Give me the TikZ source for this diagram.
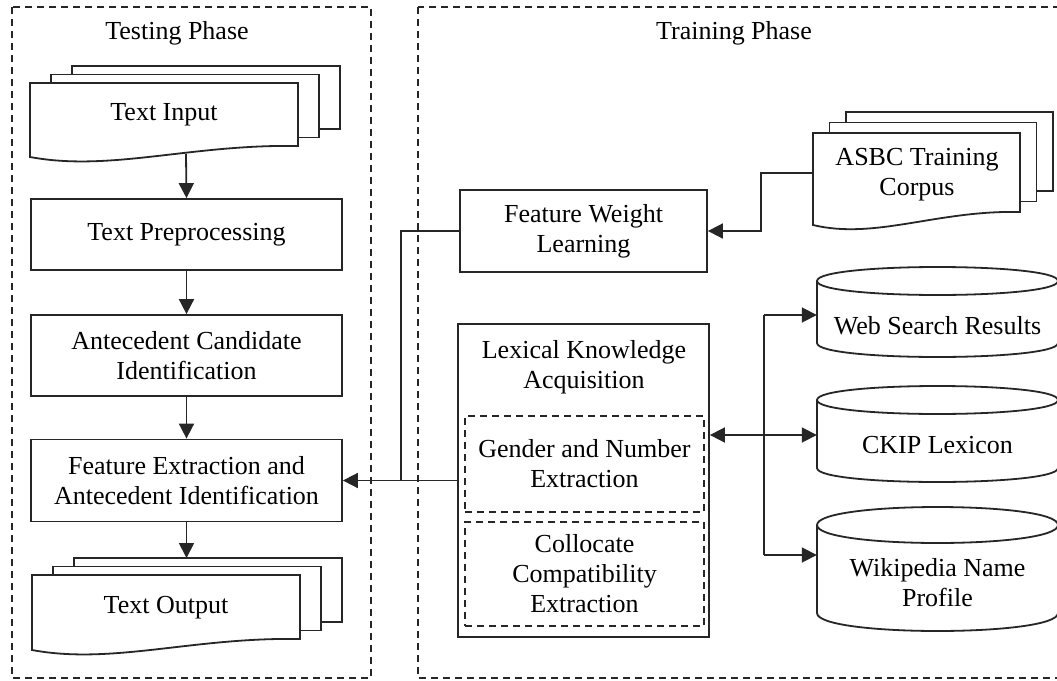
\documentclass[tikz,border=0pt]{standalone}
\usepackage{fontspec}
\setmainfont{Liberation Serif}
\usetikzlibrary{arrows.meta,calc}
\tikzset{
  line/.style={line width=1.8pt, draw=black!85},
  arr/.style={line, -{Triangle[length=15pt,width=15pt]}},
  biarr/.style={line, {Triangle[length=15pt,width=15pt]}-{Triangle[length=15pt,width=15pt]}},
  phase/.style={line width=1.8pt, draw=black!85, dash pattern=on 7pt off 5pt},
  procbox/.style={line, rectangle, inner sep=0pt, align=center, font=\fontsize{26}{30}\selectfont},
  subbox/.style={procbox, dash pattern=on 7pt off 5pt},
  txt/.style={inner sep=0pt, align=center, font=\fontsize{26}{30}\selectfont},
}
\newcommand{\multidoc}[7]{%
  \foreach \k in {2,1}{%
    \draw[line, fill=white] ({#1+\k*#6},{#2-\k*#7}) rectangle ({#3+\k*#6},{#4-\k*#7});
  }
  \draw[line, fill=white] (#1,#2) -- (#3,#2) -- (#3,#4)
    .. controls ({#1+0.6*(#3-#1)},{#4-2}) and ({#1+0.3*(#3-#1)},{#5+15}) .. (#1,#5) -- cycle;
}
\newcommand{\cylshape}[5]{% xl xr ytop ybot ry
  \draw[line, fill=white] (#1,#3) -- (#1,#4)
    .. controls (#1,{#4+1.333*#5}) and (#2,{#4+1.333*#5}) .. (#2,#4) -- (#2,#3)
    .. controls (#2,{#3-1.333*#5}) and (#1,{#3-1.333*#5}) .. (#1,#3) -- cycle;
  \draw[line] (#1,#3) .. controls (#1,{#3+1.333*#5}) and (#2,{#3+1.333*#5}) .. (#2,#3);
}
\begin{document}
\begin{tikzpicture}[x=1pt,y=-1pt]
\useasboundingbox (0,0) rectangle (1057,680);
\fill[white] (0,0) rectangle (1057,680);

% phase frames
\draw[phase] (12,7) rectangle (371,678);
\draw[phase] (418,7) rectangle (1070,678);
\node[txt, anchor=base] (testing) at (177,39) {Testing Phase};
\node[txt, anchor=base] (training) at (734,39) {Training Phase};

% Testing column
\multidoc{30}{83}{298}{146}{157}{21}{8.5}
\node[txt] (tin) at (164,115) {Text Input};
\coordinate (tinout) at (186,154);

\node[procbox, minimum width=311pt, minimum height=71pt] (tp) at (186.5,234.5) {Text Preprocessing};
\node[procbox, minimum width=311pt, minimum height=81pt] (aci) at (186.5,355.5) {Antecedent Candidate\\Identification};
\node[procbox, minimum width=311pt, minimum height=82pt] (fe) at (186.5,480.5) {Feature Extraction and\\Antecedent Identification};

\multidoc{32}{575}{300}{639}{650}{21}{8.5}
\node[txt] (tout) at (166,608) {Text Output};
\coordinate (toutin) at (186.5,558);

\draw[arr] (tinout) -- (tp.north);
\draw[arr] (tp.south) -- (aci.north);
\draw[arr] (aci.south) -- (fe.north);
\draw[arr] (fe.south) -- (toutin);

% Training column
\node[procbox, minimum width=247pt, minimum height=82pt] (fwl) at (583.5,231) {Feature Weight\\Learning};

\multidoc{813}{133}{1020}{212}{225}{16.5}{10.5}
\node[txt] (asbc) at (917,175) {ASBC Training\\Corpus};
\coordinate (asbcout) at (813,173);

\node[procbox, minimum width=251pt, minimum height=313pt] (lka) at (583.5,480.5) {};
\node[txt] (lkat) at (584,367) {Lexical Knowledge\\Acquisition};
\node[subbox, minimum width=239pt, minimum height=96pt] (gen) at (584.5,464) {Gender and Number\\Extraction};
\node[subbox, minimum width=239pt, minimum height=104pt] (col) at (584.5,574) {Collocate\\Compatibility\\Extraction};

% cylinders
\cylshape{817}{1058}{281}{343}{14}
\node[txt, minimum width=241pt] (web) at (937.5,326) {Web Search Results};
\cylshape{817}{1058}{400}{468}{14}
\node[txt, minimum width=241pt] (ckip) at (937.5,445) {CKIP Lexicon};
\cylshape{817}{1058}{525}{613}{18}
\node[txt, minimum width=241pt] (wiki) at (937.5,583) {Wikipedia Name\\Profile};

% connectors
\coordinate (junc) at (401,480.5);
\draw[line] (fwl.west) -| (junc);
\draw[arr] (lka.west) -- (fe.east);
\draw[arr] (asbcout) -- ++(-52,0) |- (fwl.east);

\coordinate (bus1) at (764,315);
\coordinate (bus2) at (764,435);
\coordinate (bus3) at (764,555);
\draw[line] (bus1) -- (bus3);
\draw[arr] (bus1) -- (bus1 -| web.west);
\draw[arr] (bus3) -- (bus3 -| wiki.west);
\draw[biarr] (lka.east |- bus2) -- (bus2 -| ckip.west);
\end{tikzpicture}
\end{document}
